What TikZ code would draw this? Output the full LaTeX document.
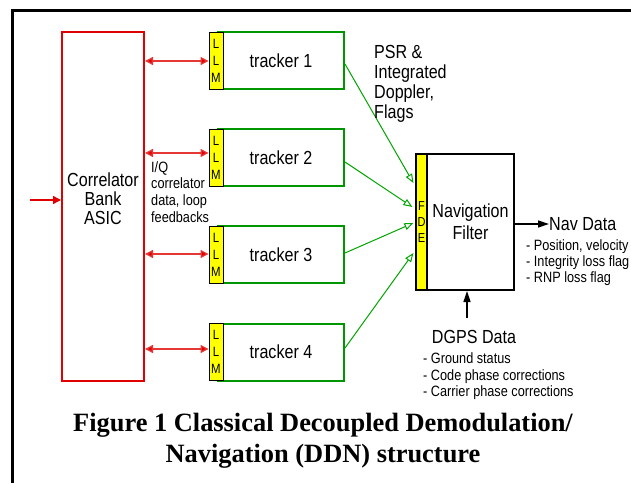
\documentclass[tikz,border=0pt]{standalone}
\usepackage{fontspec}
\setmainfont{Liberation Sans}[FakeStretch=0.85]
\newfontfamily\capfont{Liberation Serif}
\usetikzlibrary{arrows.meta,calc}
\definecolor{boxred}{RGB}{225,0,0}
\definecolor{arrred}{RGB}{230,55,55}
\definecolor{boxgreen}{RGB}{0,150,0}
\definecolor{arrgreen}{RGB}{0,165,0}
\definecolor{llmyellow}{RGB}{255,255,0}
\newcommand{\fsz}[2]{\fontsize{#1}{#2}\selectfont}
\begin{document}
\begin{tikzpicture}[x=1bp,y=-1bp,
  redbox/.style={draw=boxred,line width=2bp,minimum width=82bp,minimum height=349bp,inner sep=0},
  trackbox/.style={draw=boxgreen,line width=2bp,minimum width=126bp,minimum height=57bp,inner sep=0,font=\fsz{19}{20}},
  llmbox/.style={draw=black,fill=llmyellow,line width=0.9bp,minimum width=14bp,minimum height=57bp,inner sep=0,align=center,font=\fsz{13.5}{17}},
  navbox/.style={draw=black,line width=2bp,minimum width=87bp,minimum height=136bp,inner sep=0,align=center,font=\fsz{19}{22}},
  fdebox/.style={draw=black,fill=llmyellow,line width=1.2bp,minimum width=11bp,minimum height=136bp,inner sep=0,align=center,font=\fsz{13}{16.5}},
  bigtxt/.style={inner sep=0,font=\fsz{19}{20}},
  smalltxt/.style={inner sep=0,align=left,font=\fsz{15}{16.5}},
  redarr/.style={draw=arrred,line width=1.3bp,arrows={Triangle[length=8bp,width=8bp,fill=boxred]-Triangle[length=8bp,width=8bp,fill=boxred]}},
  inarr/.style={draw=boxred,line width=1.3bp,arrows={-Triangle[length=8bp,width=8bp]}},
  grnarr/.style={draw=arrgreen,line width=1bp,arrows={-Triangle[open,length=9bp,width=7bp]}},
  blkarr/.style={draw=black,line width=1.3bp,arrows={-Triangle[length=11bp,width=7bp]}}
]
\useasboundingbox (0,0) rectangle (631,483);
% frame
\coordinate (fbl) at (12.5,483);
\coordinate (ftl) at (12.5,11);
\coordinate (ftr) at (631,11);
\draw[line width=3bp] (fbl) -- (ftl) -- (ftr);

% correlator
\node[redbox] (asic) at (103,206.5) {};
\node[bigtxt,align=center,font=\fsz{19}{19}] (asictxt) at (103,198.5) {Correlator\\Bank\\ASIC};
\coordinate (src) at (30,200);
\draw[inarr] (src) -- (src -| asic.west);

% trackers
\node[trackbox] (t1) at (281,60.5) {tracker 1};
\node[trackbox] (t2) at (281,157.5) {tracker 2};
\node[trackbox] (t3) at (281,254.5) {tracker 3};
\node[trackbox] (t4) at (281,352) {tracker 4};
\node[llmbox] (l1) at (216,60.5) {L\\L\\M};
\node[llmbox] (l2) at (216,157.5) {L\\L\\M};
\node[llmbox] (l3) at (216,254.5) {L\\L\\M};
\node[llmbox] (l4) at (216,352) {L\\L\\M};

% red links
\path ($(l1.west)+(0,0.5)$) coordinate (r1)
      ($(l2.west)+(0,-4.5)$) coordinate (r2)
      ($(l3.west)+(0,-0.5)$) coordinate (r3)
      ($(l4.west)+(0,-3)$) coordinate (r4);
\draw[redarr] (r1 -| asic.east) -- (r1);
\draw[redarr] (r2 -| asic.east) -- (r2);
\draw[redarr] (r3 -| asic.east) -- (r3);
\draw[redarr] (r4 -| asic.east) -- (r4);

\node[smalltxt,anchor=north west,font=\fsz{15}{17}] (iq) at (151,161) {I/Q\\correlator\\data, loop\\feedbacks};

% navigation filter
\node[navbox] (nav) at (470.5,222) {Navigation\\Filter};
\node[fdebox] (fde) at (421.5,222) {F\\D\\E};

% green links
\draw[grnarr] ($(t1.east)+(0,3.5)$) -- ($(fde.west)+(-2,-39)$);
\draw[grnarr] ($(t2.east)+(0,4.5)$) -- ($(fde.west)+(-3,-15)$);
\draw[grnarr] ($(t3.east)+(0,-1.5)$) -- ($(fde.west)+(-2,1)$);
\draw[grnarr] ($(t4.east)+(0,-4)$) -- ($(fde.west)+(-2,31)$);

\node[bigtxt,anchor=north west,align=left] (psr) at (374,45) {PSR \&\\Integrated\\Doppler,\\Flags};

% outputs
\coordinate (navout) at (549,224);
\draw[blkarr] (nav.east |- navout) -- (navout);
\node[bigtxt,anchor=west] (navdata) at (navout) {Nav Data};
\node[smalltxt,anchor=north west,font=\fsz{15}{16}] (navlist) at (526,239.5) {- Position, velocity\\- Integrity loss flag\\- RNP loss flag};

\coordinate (dgin) at (467,318);
\draw[blkarr] (dgin) -- (dgin |- nav.south);
\node[bigtxt] (dgps) at (474,337) {DGPS Data};
\node[smalltxt,anchor=north west] (dglist) at (423,352.6) {- Ground status\\- Code phase corrections\\- Carrier phase corrections};

% caption
\node[inner sep=0,align=center,font=\capfont\bfseries\fsz{26.5}{31}] (cap) at (323,441) {Figure 1 Classical Decoupled Demodulation/\\Navigation (DDN) structure};
\end{tikzpicture}
\end{document}
